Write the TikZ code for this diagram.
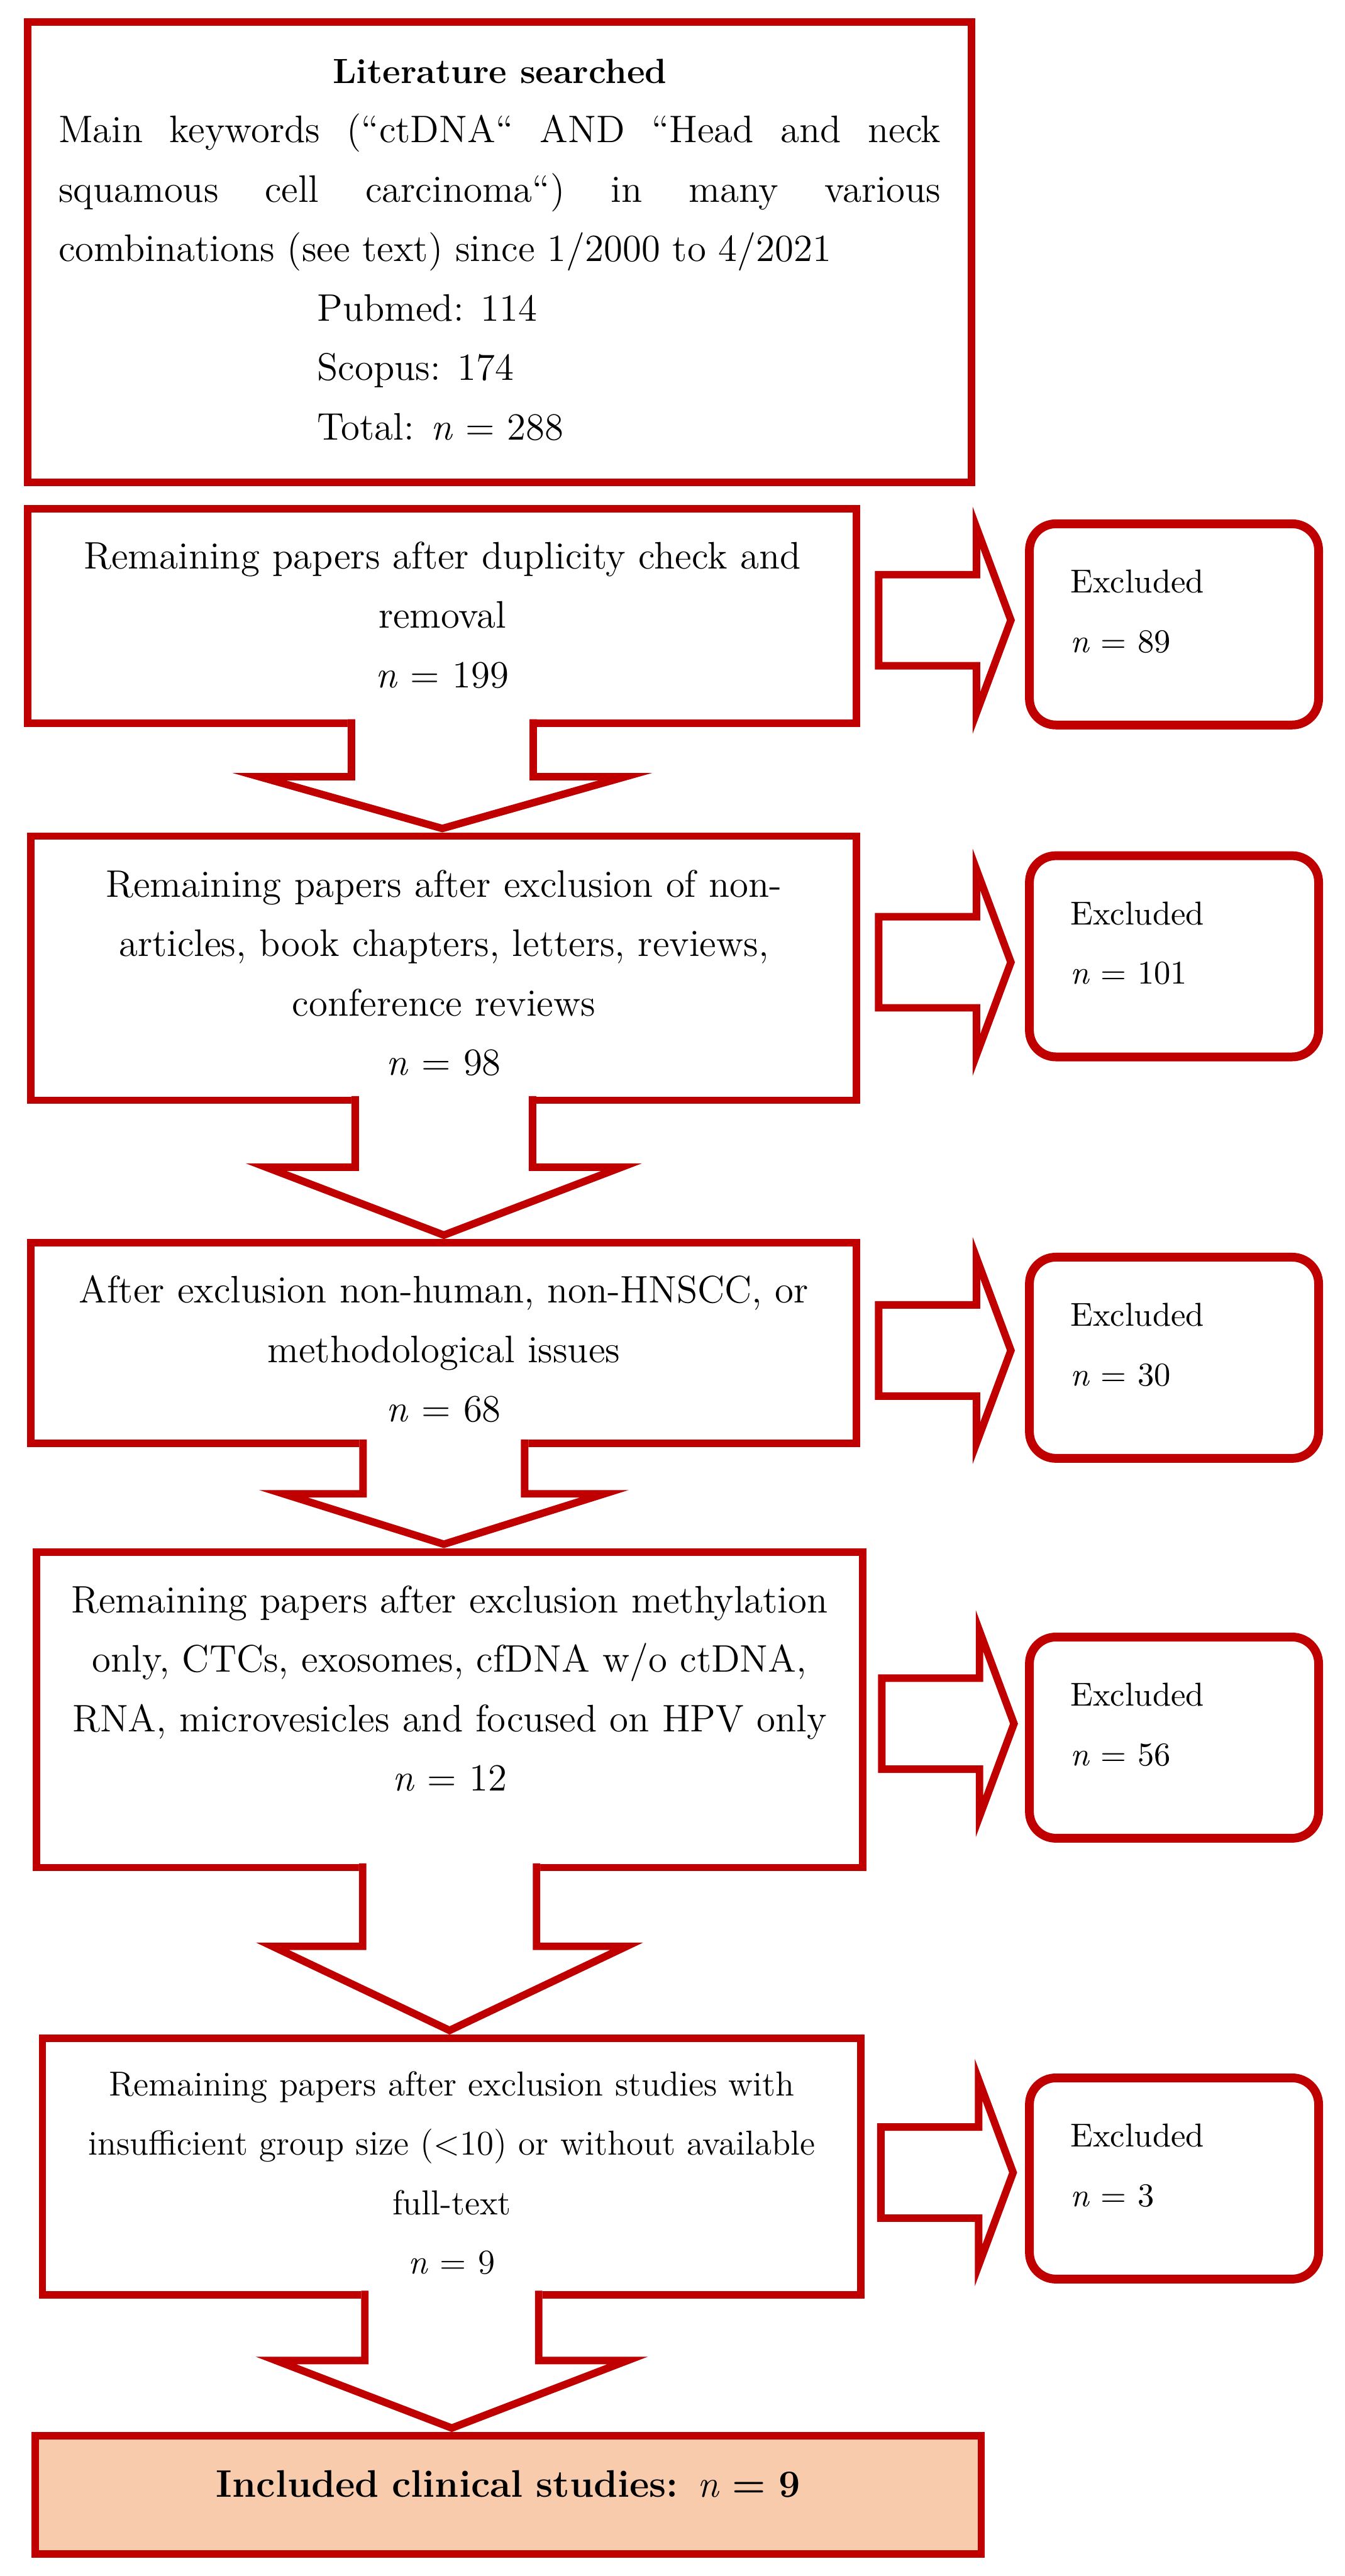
\documentclass[tikz,border=0pt]{standalone}
\usetikzlibrary{calc}
\definecolor{dred}{HTML}{C00000}
\definecolor{peach}{HTML}{F8CBAD}
% block arrow down: from, to, shaft half width, head half width, head length
\newcommand{\dnblk}[5]{%
 \coordinate (tip) at (#1.south |- #2.north);
 \coordinate (d1) at ($(#1.south)+(-#3,.09)$); \coordinate (d7) at ($(#1.south)+(#3,.09)$);
 \coordinate (d2) at ($(tip)+(-#3,#5)$); \coordinate (d6) at ($(tip)+(#3,#5)$);
 \coordinate (d3) at ($(tip)+(-#4,#5)$); \coordinate (d5) at ($(tip)+(#4,#5)$);
 \fill[white] (d1)--(d2)--(d3)--(tip)--(d5)--(d6)--(d7)--cycle;
 \begin{scope}\clip (d1)--(d2)--(d3)--(tip)--(d5)--(d6)--(d7)--cycle;
 \draw[rim] (d1)--(d2)--(d3)--(tip)--(d5)--(d6)--(d7);\end{scope}}
% block arrow right, between box and excluded box
\newcommand{\rtblk}[2]{%
 \coordinate (m) at ($(#1.east)!.5!(#2.west)$);
 \foreach \n/\p in {r1/{-.77,.56},r2/{.34,.56},r3/{.34,1.29},r4/{.82,0},r5/{.34,-1.29},r6/{.34,-.56},r7/{-.77,-.56}}
  \coordinate (\n) at ($(m)+(\p)$);
 \fill[white] (r1)--(r2)--(r3)--(r4)--(r5)--(r6)--(r7)--cycle;
 \begin{scope}\clip (r1)--(r2)--(r3)--(r4)--(r5)--(r6)--(r7)--cycle;
 \draw[rim] (r1)--(r2)--(r3)--(r4)--(r5)--(r6)--(r7)--cycle;\end{scope}}

\begin{document}
\begin{tikzpicture}[x=1cm,y=1cm,
 stage/.style={draw=dred,line width=.085cm,fill=white,inner sep=0,align=center,font=\fontsize{12.4}{19.2}\selectfont},
 excl/.style={draw=dred,line width=.1cm,rounded corners=.3cm,fill=white,inner xsep=.465cm,inner ysep=0,text width=2.355cm,
   text height=.785cm,text depth=1.5cm,align=left,font=\fontsize{10.7}{19.2}\selectfont},
 rim/.style={draw=dred,line width=.17cm,line join=miter}]
 \useasboundingbox (0,0) rectangle (15.28,29.26);
 % main column
 \node[stage,align=justify,inner xsep=.3475cm,text width=10.025cm,text height=.6925cm,text depth=4.5325cm] (lit) at (5.6775,26.395)
  {\centerline{\fontsize{11.3}{19.2}\bfseries Literature searched}
   Main keywords (“ctDNA“ AND “Head and neck\linebreak squamous cell carcinoma“) in many various\linebreak combinations (see text) since 1/2000 to 4/2021\par
   \hspace*{2.94cm}Pubmed: 114\par\hspace*{2.94cm}Scopus: 174\par\hspace*{2.94cm}Total: \textit{n} = 288};
 \node[stage,text width=9.415cm,text height=.6825cm,text depth=1.7575cm] (dup) at (5.025,22.2625)
  {Remaining papers after duplicity check and\\removal\\\textit{n} = 199};
 \node[stage,text width=9.38cm,text height=.6925cm,text depth=2.3075cm] (nonart) at (5.0425,18.2625)
  {Remaining papers after exclusion of non-\\articles, book chapters, letters, reviews,\\conference reviews\\\textit{n} = 98};
 \node[stage,text width=9.38cm,text height=.6825cm,text depth=1.5975cm] (nonhum) at (5.0425,14.0025)
  {After exclusion non-human, non-HNSCC, or\\methodological issues\\\textit{n} = 68};
 \node[stage,text width=9.39cm,text height=.6925cm,text depth=2.8925cm] (meth) at (5.1075,9.84)
  {Remaining papers after exclusion methylation\\only, CTCs, exosomes, cfDNA w/o ctDNA,\\RNA, microvesicles and focused on HPV only\\\textit{n} = 12};
 \node[stage,font=\fontsize{11.2}{19.2}\selectfont,text width=9.3cm,text height=.6525cm,text depth=2.2625cm] (size) at (5.1325,4.65)
  {Remaining papers after exclusion studies with\\insufficient group size (<10) or without available\\full-text\\\textit{n} = 9};
 \node[stage,fill=peach,text width=10.745cm,text height=.6975cm,text depth=.6475cm] (incl) at (5.775,.92)
  {\textbf{Included clinical studies: \textmd{\textit{n}} = 9}};
 % excluded column
 \node[excl] (ex1) at (13.3375,22.1675) {Excluded\\\textit{n} = 89};
 \node[excl] (ex2) at (13.3375,18.3975) {Excluded\\\textit{n} = 101};
 \node[excl] (ex3) at (13.3375,13.8375) {Excluded\\\textit{n} = 30};
 \node[excl] (ex4) at (13.3375,9.5225) {Excluded\\\textit{n} = 56};
 \node[excl] (ex5) at (13.3375,4.515) {Excluded\\\textit{n} = 3};
 % block arrows
 \dnblk{dup}{nonart}{1.075}{2.385}{.675}
 \dnblk{nonart}{nonhum}{1.05}{2.25}{.86}
 \dnblk{nonhum}{meth}{.96}{2.1}{.66}
 \dnblk{meth}{size}{1.03}{2.2}{1.045}
 \dnblk{size}{incl}{1.03}{2.225}{.855}
 \rtblk{dup}{ex1} \rtblk{nonart}{ex2} \rtblk{nonhum}{ex3} \rtblk{meth}{ex4} \rtblk{size}{ex5}
\end{tikzpicture}
\end{document}
